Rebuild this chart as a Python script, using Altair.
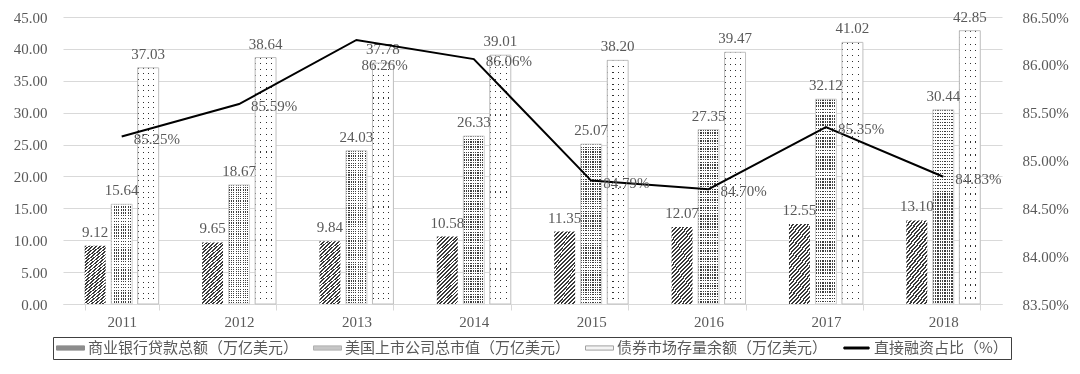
import altair as alt
import pandas as pd

# ---------------- data ----------------
years = ["2011", "2012", "2013", "2014", "2015", "2016", "2017", "2018"]
bank_loans = [9.12, 9.65, 9.84, 10.58, 11.35, 12.07, 12.55, 13.10]
market_cap = [15.64, 18.67, 24.03, 26.33, 25.07, 27.35, 32.12, 30.44]
bond_balance = [37.03, 38.64, 37.78, 39.01, 38.20, 39.47, 41.02, 42.85]
direct_ratio = [85.25, 85.59, 86.26, 86.06, 84.79, 84.70, 85.35, 84.83]

s1 = "商业银行贷款总额（万亿美元）"
s2 = "美国上市公司总市值（万亿美元）"
s3 = "债券市场存量余额（万亿美元）"
s4 = "直接融资占比（%）"
bar_series = [s1, s2, s3]
legend_series = [s1, s2, s3, s4]
left_ticks = [0, 5, 10, 15, 20, 25, 30, 35, 40, 45]
right_ticks = [83.5, 84.0, 84.5, 85.0, 85.5, 86.0, 86.5]

rows = []
for name, vals in zip(bar_series, [bank_loans, market_cap, bond_balance]):
    for yr, v in zip(years, vals):
        rows.append({"year": yr, "series": name, "value": v})
bars_df = pd.DataFrame(rows)
line_df = pd.DataFrame({"year": years, "ratio": direct_ratio})

# ---------------- styles ----------------
SERIF = "Liberation Serif"
CJK = "Noto Sans CJK SC"
TXT = "#595959"
GRID = "#d9d9d9"


def stripes(n, dark, light, frac, x2, y2):
    stops = []
    for i in range(n):
        a = i / n
        b = (i + frac) / n
        c = (i + 1) / n
        stops += [
            {"offset": round(a, 5), "color": dark},
            {"offset": round(b, 5), "color": dark},
            {"offset": round(b, 5), "color": light},
            {"offset": round(c, 5), "color": light},
        ]
    return {"gradient": "linear", "x1": 0, "y1": 0, "x2": x2, "y2": y2, "stops": stops}


hatch = stripes(24, "#3a3a3a", "#ffffff", 0.5, 0.358, 1.193)
dense_v = stripes(9, "#404040", "#ffffff", 0.52, 1, 0)
dense_h = stripes(65, "#404040", "#ffffff", 0.52, 0, 1)
sparse_v = stripes(4, "#303030", "#ffffff", 0.2, 1, 0)
sparse_h = stripes(42, "#303030", "#ffffff", 0.18, 0, 1)

x_enc = alt.X(
    "year:N",
    sort=years,
    scale=alt.Scale(paddingInner=0.37, paddingOuter=0.185),
    axis=alt.Axis(
        title=None, labelAngle=0, labelFont=SERIF, labelFontSize=15, labelColor=TXT,
        domainColor=GRID, tickColor=GRID, tickBand="extent", tickSize=6,
        labelPadding=4, grid=False,
    ),
)
xo_enc = alt.XOffset(
    "series:N", sort=bar_series,
    scale=alt.Scale(domain=bar_series, paddingInner=0.21, paddingOuter=0),
)
y_left = alt.Y(
    "value:Q",
    scale=alt.Scale(domain=[0, 45], nice=False),
    axis=alt.Axis(
        title=None, values=left_ticks, format=".2f", labelFont=SERIF, labelFontSize=15,
        labelColor=TXT, ticks=False, domain=False, gridColor=GRID, labelPadding=16,
    ),
)
y_right = alt.Y(
    "ratio:Q",
    scale=alt.Scale(domain=[83.5, 86.5], nice=False),
    axis=alt.Axis(
        title=None, orient="right", values=right_ticks,
        labelExpr="format(datum.value, '.2f') + '%'", labelFont=SERIF, labelFontSize=15,
        labelColor=TXT, ticks=False, domain=False, grid=False, labelPadding=20,
    ),
)

base = alt.Chart(bars_df).encode(x=x_enc, xOffset=xo_enc, y=y_left)


def only(name):
    return base.transform_filter(alt.datum.series == name)


bar1 = only(s1).mark_bar(fill=hatch, strokeWidth=0)
bar2a = only(s2).mark_bar(fill=dense_v, strokeWidth=0)
bar2b = only(s2).mark_bar(fill=dense_h, strokeWidth=0, blend="lighten")
bar2o = only(s2).mark_bar(fillOpacity=0, stroke="#cfcfcf", strokeWidth=1)
bar3a = only(s3).mark_bar(fill=sparse_v, strokeWidth=0)
bar3b = only(s3).mark_bar(fill=sparse_h, strokeWidth=0, blend="lighten")
bar3o = only(s3).mark_bar(fillOpacity=0, stroke="#bfbfbf", strokeWidth=1)

bar_labels = base.mark_text(
    font=SERIF, fontSize=15, color=TXT, baseline="alphabetic", dy=-9
).encode(text=alt.Text("value:Q", format=".2f"))

legend = alt.Legend(
    title=None, orient="none", legendX=-10, legendY=320, direction="horizontal",
    columns=4, symbolSize=784, clipHeight=16, labelFont=CJK, labelFontSize=15,
    labelColor=TXT, labelOffset=3, columnPadding=14, padding=3,
    strokeColor="#404040", symbolStrokeWidth=1, symbolOpacity=1, labelLimit=0,
)
bar_path = "M-1,-0.15H1V0.15H-1Z"
line_path = "M-0.9,-0.07H0.9V0.07H-0.9Z"
legend_layer = base.mark_point(filled=True, opacity=0).encode(
    fill=alt.Fill("series:N", scale=alt.Scale(domain=legend_series,
                  range=["#8c8c8c", "#c6c6c6", "#f4f4f4", "#000000"]), legend=legend),
    stroke=alt.Stroke("series:N", scale=alt.Scale(domain=legend_series,
                      range=["#8c8c8c", "#b0b0b0", "#a0a0a0", "#000000"]), legend=legend),
    shape=alt.Shape("series:N", scale=alt.Scale(domain=legend_series,
                    range=[bar_path, bar_path, bar_path, line_path]), legend=legend),
)

bars = alt.layer(bar1, bar2a, bar2b, bar2o, bar3a, bar3b, bar3o, bar_labels, legend_layer)

lbase = alt.Chart(line_df).encode(x=x_enc, y=y_right).transform_calculate(
    label="format(datum.ratio, '.2f') + '%'"
)
line = lbase.mark_line(color="#000000", strokeWidth=2)
line_labels = lbase.transform_filter(alt.datum.year != "2013").mark_text(
    font=SERIF, fontSize=15, color=TXT, align="left", baseline="middle", dx=12, dy=2
).encode(text="label:N")
line_label_2013 = lbase.transform_filter(alt.datum.year == "2013").mark_text(
    font=SERIF, fontSize=15, color=TXT, align="left", baseline="middle", dx=5, dy=25
).encode(text="label:N")

lines = alt.layer(line, line_labels, line_label_2013)

chart = (
    alt.layer(bars, lines)
    .resolve_scale(y="independent")
    .properties(
        width=939, height=287,
        padding={"left": 5, "top": 1, "right": 0, "bottom": 0},
        background="#ffffff",
    )
    .configure_view(stroke=None)
)

chart.save("out.html", embed_options={"renderer": "svg", "actions": False})
